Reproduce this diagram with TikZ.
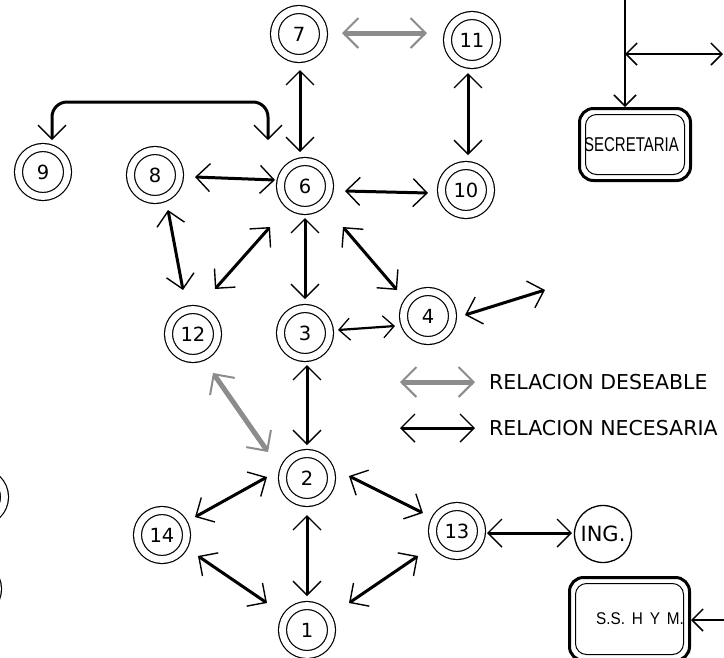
\documentclass[tikz,border=0pt]{standalone}
\usepackage{fontspec}
\setmainfont{DejaVu Sans}
\newfontfamily\cadfont[FakeStretch=0.75]{Liberation Sans}
\newfontfamily\cadwide[FakeStretch=0.9,WordSpace=1.6]{Liberation Sans}
\usetikzlibrary{arrows.meta}
\begin{document}
\begin{tikzpicture}[x=1pt,y=1pt,
  dnode/.style={circle, draw, line width=1.2pt, double, double distance=6.8pt,
    minimum size=49pt, inner sep=0pt, font=\fontsize{19.5}{19.5}\selectfont},
  snode/.style={circle, draw, line width=1.3pt, minimum size=57pt, inner sep=0pt,
    font=\fontsize{21}{21}\selectfont},
  boxo/.style={draw, line width=3pt, rounded corners=14pt, inner sep=0pt},
  boxi/.style={draw, line width=1pt, rounded corners=11pt},
  nec/.style={line width=3pt, >={Straight Barb[length=14pt,width=28pt,line width=1.4pt]}, <->},
  necs/.style={line width=2.2pt, >={Straight Barb[length=11pt,width=22pt,line width=1.3pt]}, <->},
  des/.style={line width=5pt, draw=black!45, >={Straight Barb[length=15pt,width=30pt,line width=2pt]}, <->},
  thinarr/.style={line width=1.5pt, >={Straight Barb[length=11pt,width=22pt,line width=1.5pt]}, ->},
  thinboth/.style={line width=1.5pt, >={Straight Barb[length=11pt,width=22pt,line width=1.5pt]}, <->},
  legend/.style={anchor=west, inner sep=0pt, font=\fontsize{20.5}{20.5}\selectfont}
]
\clip (0,0) rectangle (724,-657);

% nodes
\node[dnode] (n1) at (307,-630) {1};
\node[dnode] (n2) at (307,-478) {2};
\node[dnode] (n3) at (305,-333) {3};
\node[dnode] (n4) at (428,-316) {4};
\node[dnode] (n6) at (305,-186) {6};
\node[dnode] (n7) at (299,-34) {7};
\node[dnode] (n8) at (155,-175) {8};
\node[dnode] (n9) at (43,-172) {9};
\node[dnode] (n10) at (466,-190) {10};
\node[dnode] (n11) at (472,-40) {11};
\node[dnode] (n12) at (193,-334) {12};
\node[dnode] (n13) at (457,-531) {13};
\node[dnode] (n14) at (162,-535) {14};
\node[snode] (ing) at (603,-534) {ING.};
\node[dnode] (nl1) at (-20,-497) {};
\node[dnode] (nl2) at (-27,-589) {};

\node[boxo, minimum width=111pt, minimum height=72pt] (sec) at (635,-144.5)
  {\cadfont\fontsize{20}{20}\selectfont\hspace*{-7pt}SECRETARIA};
\draw[boxi] ([shift={(7.5,7.5)}]sec.south west) rectangle ([shift={(-7.5,-7.5)}]sec.north east);

\node[boxo, minimum width=120pt, minimum height=83pt] (ssh) at (629.5,-619)
  {\cadwide\fontsize{17}{17}\selectfont\hspace*{21pt}S.S. H Y M.};
\draw[boxi] ([shift={(7.5,7.5)}]ssh.south west) rectangle ([shift={(-7.5,-7.5)}]ssh.north east);

% helper coordinates
\coordinate (free4) at (545,-290);
\coordinate (b9) at ([shift={(9,32)}]n9.center);
\coordinate (b6) at ([shift={(-37,46)}]n6.center);
\coordinate (btop) at (160,-102);
\coordinate (sectop) at (625,0);
\coordinate (secj) at (625,-54);
\coordinate (secr) at (723,-54);
\coordinate (ssharr) at (724,-620);
\coordinate (lg1a) at (400,-382);
\coordinate (lg1b) at (475,-382);
\coordinate (lg2a) at (400,-428);
\coordinate (lg2b) at (475,-428);

% connectors
\draw[nec] ([shift={(1,-36)}]n7.center) -- ([shift={(-5,34)}]n6.center);
\draw[des] ([shift={(43,1)}]n7.center) -- ([shift={(-45,7)}]n11.center);
\draw[nec] ([shift={(-4,-33)}]n11.center) -- ([shift={(2,35)}]n10.center);
\draw[nec] ([shift={(40,-5)}]n6.center) -- ([shift={(-38,-3)}]n10.center);
\draw[nec] ([shift={(40,-2)}]n8.center) -- ([shift={(-30,6)}]n6.center);
\draw[nec, rounded corners=15pt] (b9) -- (b9 |- btop) -- (b6 |- btop) -- (b6);
\draw[nec] ([shift={(13,-35)}]n8.center) -- ([shift={(-10,44)}]n12.center);
\draw[nec] ([shift={(22,45)}]n12.center) -- ([shift={(-35,-41)}]n6.center);
\draw[nec] ([shift={(0,-32)}]n6.center) -- ([shift={(0,34)}]n3.center);
\draw[nec] ([shift={(38,-41)}]n6.center) -- ([shift={(-31,26)}]n4.center);
\draw[necs] ([shift={(33,3)}]n3.center) -- ([shift={(-33,-10)}]n4.center);
\draw[nec] ([shift={(37,1)}]n4.center) -- (free4);
\draw[des] ([shift={(20,-39)}]n12.center) -- ([shift={(-39,26)}]n2.center);
\draw[nec] ([shift={(2,-32)}]n3.center) -- ([shift={(0,33)}]n2.center);
\draw[nec] ([shift={(-40,1)}]n2.center) -- ([shift={(33,18)}]n14.center);
\draw[nec] ([shift={(42,2)}]n2.center) -- ([shift={(-34,18)}]n13.center);
\draw[nec] ([shift={(0,-37)}]n2.center) -- ([shift={(0,34)}]n1.center);
\draw[nec] ([shift={(36,-21)}]n14.center) -- ([shift={(-40,27)}]n1.center);
\draw[nec] ([shift={(-39,-25)}]n13.center) -- ([shift={(42,27)}]n1.center);
\draw[nec] ([shift={(30,-2)}]n13.center) -- ([shift={(-31,1)}]ing.center);

\draw[thinarr] (sectop) -- (sectop |- sec.north);
\draw[thinboth] (secj) -- (secr);
\draw[thinarr] (ssharr) -- (ssh.east |- ssharr);

% legend
\draw[des] (lg1a) -- (lg1b);
\draw[nec] (lg2a) -- (lg2b);
\node[legend] (t1) at (489,-382) {RELACION DESEABLE};
\node[legend] (t2) at (489,-428) {RELACION NECESARIA};
\end{tikzpicture}
\end{document}
